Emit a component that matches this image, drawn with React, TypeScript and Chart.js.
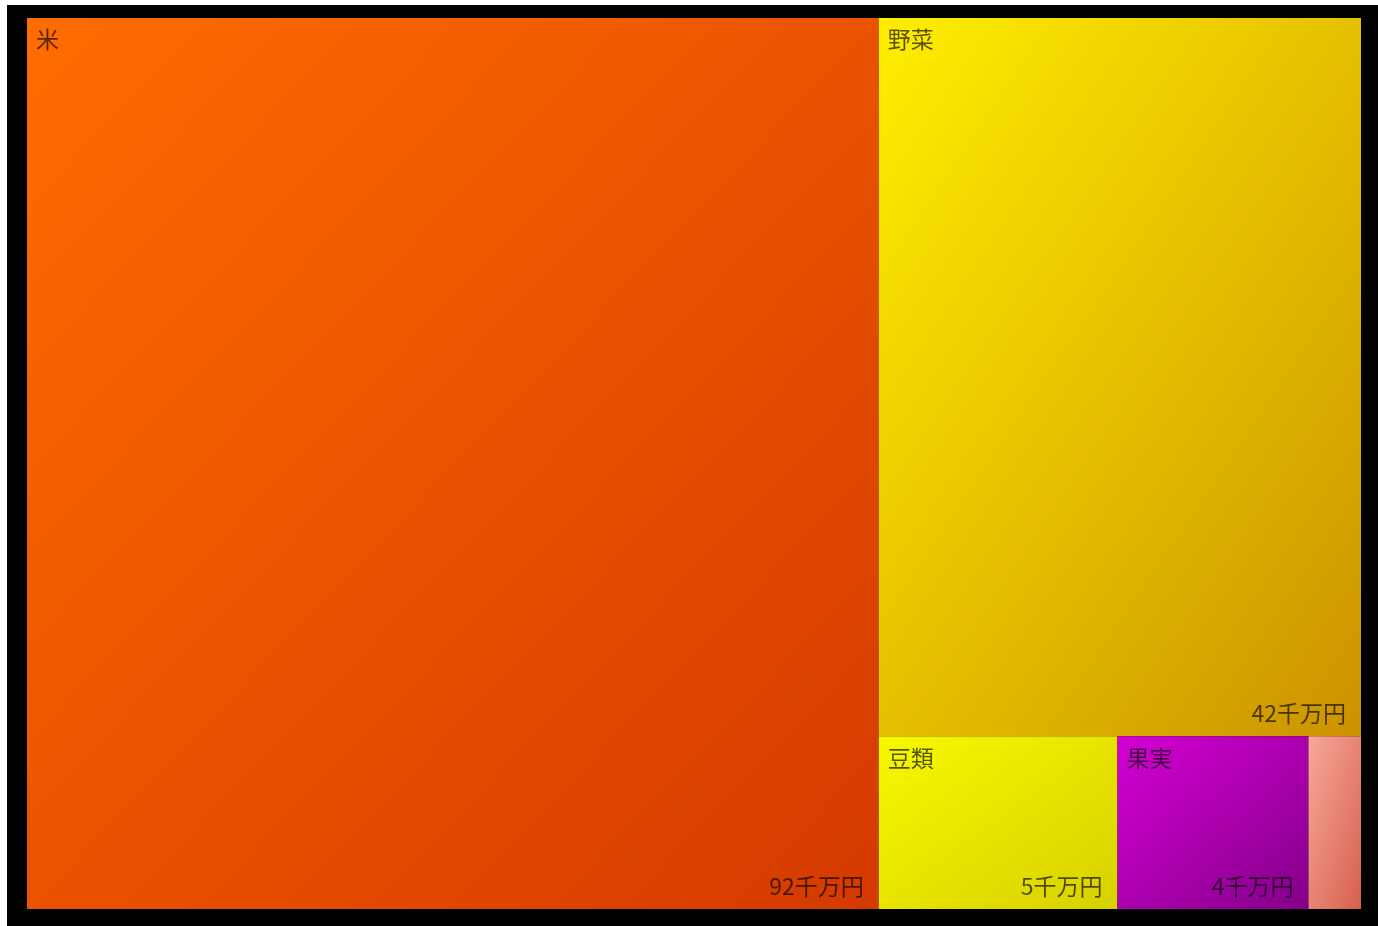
import React, { useEffect, useRef } from "react";
import { Chart, registerables } from "chart.js";

Chart.register(...registerables);

const categories = ["米", "野菜", "豆類", "果実", "その他"];
const values = [92, 42, 5, 4, 1.1];
const valueLabels = ["92千万円", "42千万円", "5千万円", "4千万円", "1千万円"];
const gradientStarts = ["#FF6C00", "#FFEE00", "#F8F800", "#D400D4", "#F8A898"];
const gradientEnds = ["#D43A00", "#CC9200", "#D8D000", "#840088", "#D66050"];

type Rect = { x: number; y: number; w: number; h: number; i: number };

function worst(row: number[], side: number): number {
  const s = row.reduce((a, b) => a + b, 0);
  const mx = Math.max(...row);
  const mn = Math.min(...row);
  return Math.max((side * side * mx) / (s * s), (s * s) / (side * side * mn));
}

function squarify(vals: number[], x: number, y: number, w: number, h: number): Rect[] {
  const total = vals.reduce((a, b) => a + b, 0);
  const scale = (w * h) / total;
  const items = vals.map((v, i) => ({ a: v * scale, i }));
  const out: Rect[] = [];
  let rx = x, ry = y, rw = w, rh = h;
  let idx = 0;
  while (idx < items.length) {
    const side = Math.min(rw, rh);
    const row = [items[idx]];
    let j = idx + 1;
    while (j < items.length) {
      const cur = row.map((r) => r.a);
      const next = [...cur, items[j].a];
      if (worst(next, side) <= worst(cur, side)) {
        row.push(items[j]);
        j++;
      } else break;
    }
    const sum = row.reduce((a, r) => a + r.a, 0);
    if (rw >= rh) {
      const colW = sum / rh;
      let cy = ry;
      for (const r of row) {
        const hh = r.a / colW;
        out.push({ x: rx, y: cy, w: colW, h: hh, i: r.i });
        cy += hh;
      }
      rx += colW;
      rw -= colW;
    } else {
      const rowH = sum / rw;
      let cx = rx;
      for (const r of row) {
        const ww = r.a / rowH;
        out.push({ x: cx, y: ry, w: ww, h: rowH, i: r.i });
        cx += ww;
      }
      ry += rowH;
      rh -= rowH;
    }
    idx = j;
  }
  return out;
}

const treemapPlugin = {
  id: "treemapPlugin",
  beforeDatasetsDraw(chart: any) {
    const ctx = chart.ctx as CanvasRenderingContext2D;
    const xs = chart.scales.x;
    const ys = chart.scales.y;
    const area = chart.chartArea;
    const W = area.right - area.left;
    const H = area.bottom - area.top;
    const rects = squarify(values, 0, 0, W, H).map((r) => ({
      x: r.x / W, y: r.y / H, w: r.w / W, h: r.h / H, i: r.i,
    }));
    for (const r of rects) {
      const x0 = xs.getPixelForValue(r.x);
      const x1 = xs.getPixelForValue(r.x + r.w);
      const y0 = ys.getPixelForValue(r.y);
      const y1 = ys.getPixelForValue(r.y + r.h);
      const left = Math.min(x0, x1), right = Math.max(x0, x1);
      const top = Math.min(y0, y1), bottom = Math.max(y0, y1);
      const bw = right - left;
      const bh = bottom - top;

      // bounding-box gradient (top-left -> bottom-right in box units)
      ctx.save();
      ctx.translate(left, top);
      ctx.scale(bw, bh);
      const g = ctx.createLinearGradient(0, 0, 1, 1);
      g.addColorStop(0, gradientStarts[r.i]);
      g.addColorStop(1, gradientEnds[r.i]);
      ctx.fillStyle = g;
      ctx.fillRect(0, 0, 1, 1);
      ctx.restore();

      ctx.save();
      ctx.font = '23px "Noto Sans CJK JP", sans-serif';
      ctx.fillStyle = "rgba(0,0,0,0.66)";
      const name = categories[r.i];
      const val = valueLabels[r.i];
      const nameW = ctx.measureText(name).width;
      const valW = ctx.measureText(val).width;
      if (nameW + 18 < bw) {
        ctx.textAlign = "left";
        ctx.textBaseline = "top";
        ctx.fillText(name, left + 9, top + 10);
      }
      if (valW + 24 < bw) {
        ctx.textAlign = "right";
        ctx.textBaseline = "alphabetic";
        ctx.fillText(val, right - 15, bottom - 14);
      }
      ctx.restore();
    }
  },
};

export default function App() {
  const ref = useRef<HTMLCanvasElement | null>(null);
  useEffect(() => {
    if (!ref.current) return;
    const chart = new Chart(ref.current, {
      type: "scatter",
      data: {
        labels: categories,
        datasets: [{ label: "金額", data: [], pointRadius: 0 }],
      },
      options: {
        animation: false,
        responsive: false,
        layout: { padding: { left: 20, top: 13, right: 17, bottom: 17 } },
        plugins: { legend: { display: false }, tooltip: { enabled: false } },
        scales: {
          x: { type: "linear", min: 0, max: 1, display: false },
          y: { type: "linear", min: 0, max: 1, reverse: true, display: false },
        },
      },
      plugins: [treemapPlugin],
    });
    return () => chart.destroy();
  }, []);
  return (
    <div style={{ position: "fixed", left: 7, top: 5, width: 1371, height: 921, background: "#000" }}>
      <canvas ref={ref} width={1371} height={921} style={{ display: "block", width: 1371, height: 921 }} />
    </div>
  );
}
